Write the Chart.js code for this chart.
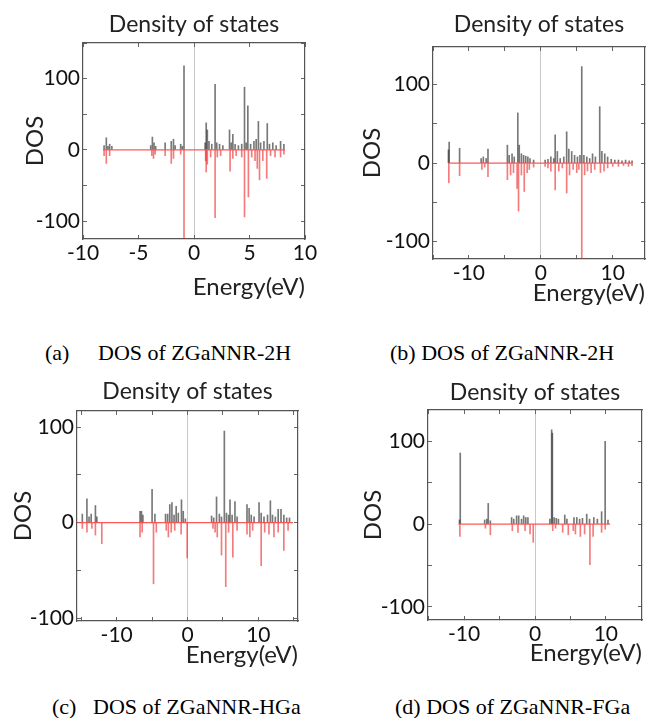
<!DOCTYPE html>
<html>
<head>
<meta charset="utf-8">
<script src="https://cdn.jsdelivr.net/npm/chart.js@4.4.1/dist/chart.umd.min.js"></script>
<style>
  html, body { margin: 0; padding: 0; background: #fff; }
  #page { position: relative; width: 654px; height: 718px; overflow: hidden; background: #fff; }
  .panel { position: absolute; }
  .cap { position: absolute; font-family: 'Liberation Serif', serif; font-size: 22px; line-height: 26px; color: #000; white-space: pre; }
</style>
</head>
<body>
<div id="page">
  <div class="panel"><canvas id="chartA"></canvas></div>
  <div class="panel"><canvas id="chartB"></canvas></div>
  <div class="panel"><canvas id="chartC"></canvas></div>
  <div class="panel"><canvas id="chartD"></canvas></div>

  <div class="cap" style="left:45px; top:340px">(a)</div>
  <div class="cap" style="left:98px; top:340px">DOS of ZGaNNR-2H</div>
  <div class="cap" style="left:390px; top:340px">(b) DOS of ZGaNNR-2H</div>
  <div class="cap" style="left:52px; top:694px">(c)</div>
  <div class="cap" style="left:93px; top:694px">DOS of ZGaNNR-HGa</div>
  <div class="cap" style="left:395px; top:694px">(d) DOS of ZGaNNR-FGa</div>
</div>

<script>
// ---- data: spin-up spikes (E, DOS), spin-down spikes (E, DOS), red baseline extent ----
// (a) ZGaNNR-2H
const aUpE = [-8.1, -7.9, -7.75, -7.6, -7.4, -3.9, -3.75, -3.6, -3.45, -2.6, -2.05, -1.85, -1.7, -1.2, -1.05, -0.9,
  1.0, 1.1, 1.2, 1.35, 1.6, 1.9, 2.05, 2.3, 2.6, 3.2, 3.35, 3.5, 3.7, 4.0, 4.3, 4.55, 4.7, 4.85, 5.1, 5.4, 5.6, 5.8,
  6.0, 6.3, 6.6, 6.8, 7.1, 7.4, 7.8, 8.1];
const aUpV = [6, 17, 5, 8, 5, 6, 18, 10, 5, 10, 12, 15, 6, 8, 5, 118,
  10, 38, 28, 12, 8, 92, 10, 8, 6, 28, 10, 22, 8, 6, 8, 88, 10, 62, 8, 12, 15, 40,
  10, 12, 37, 8, 10, 6, 12, 8];
const aDnE = [-8.1, -7.9, -7.6, -3.8, -3.65, -3.5, -2.6, -2.05, -1.85, -1.2, -0.9, 1.05, 1.1, 1.2, 1.5, 1.9, 2.1, 2.4,
  3.25, 3.5, 3.8, 4.3, 4.55, 4.9, 5.2, 5.5, 5.7, 5.9, 6.2, 6.55, 6.9, 7.3, 7.8, 8.1];
const aDnV = [-8, -19, -8, -8, -12, -6, -8, -19, -12, -6, -135, -15, -31, -20, -10, -95, -10, -8,
  -30, -12, -8, -10, -94, -66, -10, -15, -26, -42, -15, -40, -8, -10, -10, -6];
const aBase = [-8.2, 8.2];

// (b) ZGaNNR-2H
const bUpE = [-12.85, -12.75, -11.3, -8.3, -8.0, -7.6, -7.35, -4.65, -4.4, -4.0, -3.7, -3.2, -3.0, -2.7, -2.4, -2.1,
  -1.8, -1.5, -1.0, 0.6, 1.0, 1.4, 1.8, 2.0, 2.3, 2.7, 3.2, 3.6, 3.9, 4.3, 4.7, 5.1, 5.45, 5.7, 6.0, 6.4, 6.8, 7.2,
  7.6, 8.2, 8.5, 8.9, 9.3, 9.8, 10.3, 10.8, 11.3, 11.8, 12.3, 12.7];
const bUpV = [17, 27, 19, 6, 8, 6, 18, 23, 10, 12, 8, 64, 23, 12, 10, 9,
  8, 6, 4, 4, 5, 8, 6, 36, 15, 6, 8, 40, 18, 15, 10, 8, 10, 123, 10, 8, 6, 12,
  8, 72, 15, 12, 8, 5, 4, 4, 3, 4, 3, 3];
const bDnE = [-12.8, -11.3, -8.2, -7.8, -7.35, -4.65, -4.2, -3.8, -3.3, -3.1, -2.7, -2.3, -1.9, -1.6, -1.0, 0.6,
  1.0, 1.4, 2.0, 2.5, 3.0, 3.6, 4.0, 4.5, 5.0, 5.3, 5.7, 6.1, 6.5, 7.0, 7.5, 8.3, 8.8, 9.3, 10.0, 10.8, 11.5, 12.2, 12.7];
const bDnV = [-25, -16, -8, -5, -17, -21, -15, -12, -32, -61, -15, -36, -12, -8, -5, -4,
  -6, -10, -34, -10, -6, -38, -15, -8, -12, -8, -130, -15, -10, -12, -8, -12, -10, -6, -4, -4, -3, -4, -3];
const bBase = [-12.9, 12.8];

// (c) ZGaNNR-HGa
const cUpE = [-14.85, -14.2, -13.9, -13.6, -13.0, -12.8, -6.7, -6.5, -6.3, -5.0, -4.6, -3.1, -2.8, -2.5, -2.2, -1.9,
  -1.6, -1.3, -0.85, -0.6, -0.3, 3.4, 3.7, 4.1, 4.5, 4.8, 5.2, 5.5, 5.8, 6.0, 6.3, 6.7, 7.0, 8.4, 8.7, 9.0, 9.4,
  10.1, 10.4, 10.8, 11.3, 11.7, 12.0, 12.4, 12.8, 13.2, 13.6, 14.0, 14.4];
const cUpV = [9, 25, 6, 9, 18, 6, 12, 12, 8, 35, 9, 9, 9, 19, 21, 8,
  17, 10, 24, 12, 4, 7, 5, 27, 9, 6, 96, 10, 8, 24, 8, 22, 6, 19, 15, 8, 6,
  21, 10, 6, 8, 23, 8, 6, 14, 14, 8, 5, 5];
const cDnE = [-14.85, -14.2, -13.5, -13.0, -12.1, -6.7, -6.4, -4.8, -4.4, -3.0, -2.7, -2.3, -1.8, -0.9, -0.05,
  3.6, 3.9, 4.2, 4.8, 5.4, 5.8, 6.4, 7.0, 8.4, 8.8, 9.2, 10.4, 10.9, 11.5, 12.2, 12.8, 13.6, 14.2];
const cDnV = [-6, -10, -6, -13, -22, -15, -10, -64, -10, -8, -15, -10, -8, -12, -37,
  -6, -10, -15, -34, -67, -10, -36, -8, -12, -15, -8, -45, -10, -12, -15, -10, -29, -8];
const cBase = [-15.5, 14.9];

// (d) ZGaNNR-FGa
const dUpE = [-10.65, -10.55, -7.1, -6.8, -6.6, -6.3, -3.3, -3.0, -2.6, -2.3, -1.9, -1.6, -1.3, -1.0,
  2.1, 2.35, 2.45, 2.7, 3.0, 3.3, 4.2, 4.5, 5.5, 5.9, 6.3, 6.7, 7.3, 7.7, 8.3, 8.8, 9.4, 9.9, 10.3];
const dUpV = [5, 86, 5, 6, 25, 4, 8, 6, 10, 10, 6, 10, 8, 8,
  6, 114, 110, 8, 7, 6, 11, 6, 8, 8, 6, 7, 12, 6, 8, 6, 15, 100, 5];
const dDnE = [-10.6, -7.0, -6.3, -3.2, -2.4, -1.4, -0.7, -0.25, 2.5, 2.9, 3.9, 4.7, 5.4, 5.7, 6.4, 7.0, 7.75, 8.2, 9.4, 9.9];
const dDnV = [-15, -5, -13, -8, -10, -8, -12, -22, -8, -5, -10, -13, -8, -12, -15, -12, -49, -15, -10, -6];
const dBase = [-10.8, 10.6];

// axis ranges and labelled ticks
const xRangeA = [-10, 10], xRangeB = [-15, 14.5], xRangeC = [-15.6, 15.6], xRangeD = [-15.1, 15.1];
const yRangeA = [-125, 150], yRangeB = [-122, 148], yRangeC = [-103, 117], yRangeD = [-116, 138];
const xLabelsA = [-10, -5, 0, 5, 10];
const xLabelsBCD = [-10, 0, 10];
const yLabels = [-100, 0, 100];

// ---- layout (page pixels): container box, plot area, title/axis title centres ----
const layA = { box: [0, 0, 327, 305], plot: [83, 43, 305, 239], titleY: 25, xTitleY: 287, yTitleX: 35 };
const layB = { box: [327, 0, 327, 310], plot: [433, 47, 645, 259], titleY: 25, xTitleY: 293, yTitleX: 372 };
const layC = { box: [0, 370, 327, 305], plot: [77, 411, 298, 621], titleY: 392, xTitleY: 655, yTitleX: 23 };
const layD = { box: [327, 370, 327, 305], plot: [428, 410, 642, 620], titleY: 393, xTitleY: 653, yTitleX: 373 };

const FONT = "Lato, 'Open Sans', sans-serif";
const FRAME = '#555';
const TITLE_SIZE = 23, AXIS_TITLE_SIZE = 24, TICK_SIZE = 21;

function pts(es, vs) {
  return es.map((e, i) => ({ x: e, y: vs[i] }));
}

function buildPanel(canvasId, lay, upE, upV, dnE, dnV, base, xr, yr, xLabels) {
  const [bl, bt, bw, bh] = lay.box;
  const [pl, pt, pr, pb] = lay.plot;
  const canvas = document.getElementById(canvasId);
  const wrap = canvas.parentNode;
  wrap.style.left = bl + 'px';
  wrap.style.top = bt + 'px';
  wrap.style.width = bw + 'px';
  wrap.style.height = bh + 'px';

  const tlh = TITLE_SIZE * 1.2;
  const alh = AXIS_TITLE_SIZE * 1.2;
  const titleTop = lay.titleY - bt - tlh / 2;
  const titleBottom = pt - bt - titleTop - tlh;

  const innerTicks = { drawOnChartArea: false, offset: false, tickLength: -4, tickColor: '#666' };

  new Chart(canvas, {
    type: 'bar',
    data: {
      datasets: [
        {
          type: 'line',
          data: base.map(e => ({ x: e, y: 0 })),
          borderColor: 'rgba(255,70,70,0.9)',
          borderWidth: 1.2,
          pointRadius: 0,
          clip: 0
        },
        {
          data: pts(upE, upV),
          backgroundColor: 'rgba(30,30,30,0.6)',
          barThickness: 1,
          grouped: false,
          clip: 0
        },
        {
          data: pts(dnE, dnV),
          backgroundColor: 'rgba(235,35,35,0.6)',
          barThickness: 1,
          grouped: false,
          clip: 0
        }
      ]
    },
    options: {
      responsive: true,
      maintainAspectRatio: false,
      animation: false,
      layout: { padding: 0 },
      plugins: {
        legend: { display: false },
        tooltip: { enabled: false },
        title: {
          display: true,
          text: 'Density of states',
          fullSize: false,
          color: '#222',
          font: { family: FONT, size: TITLE_SIZE, weight: 'normal', lineHeight: 1.2 },
          padding: { top: titleTop, bottom: titleBottom }
        }
      },
      scales: {
        x: {
          type: 'linear',
          position: 'bottom',
          min: xr[0],
          max: xr[1],
          offset: false,
          ticks: {
            stepSize: 5,
            includeBounds: false,
            autoSkip: false,
            maxRotation: 0,
            padding: 6,
            color: '#111',
            font: { family: FONT, size: TICK_SIZE },
            callback: v => xLabels.includes(v) ? String(v) : ''
          },
          grid: {
            drawOnChartArea: true,
            offset: false,
            color: c => (c.tick && c.tick.value === 0) ? '#c8c8c8' : 'rgba(0,0,0,0)',
            tickColor: '#666',
            tickLength: -4
          },
          border: { color: FRAME, width: 1.2 },
          title: {
            display: true,
            text: 'Energy(eV)',
            align: 'end',
            color: '#222',
            font: { family: FONT, size: AXIS_TITLE_SIZE, lineHeight: 1.2 },
            padding: { top: 0, bottom: bt + bh - lay.xTitleY - alh / 2 }
          },
          afterFit: s => { s.height = bt + bh - pb; }
        },
        y: {
          type: 'linear',
          position: 'left',
          min: yr[0],
          max: yr[1],
          ticks: {
            stepSize: 50,
            includeBounds: false,
            padding: 7,
            color: '#111',
            font: { family: FONT, size: TICK_SIZE },
            callback: v => yLabels.includes(v) ? String(v) : ''
          },
          grid: innerTicks,
          border: { color: FRAME, width: 1.2 },
          title: {
            display: true,
            text: 'DOS',
            color: '#222',
            font: { family: FONT, size: AXIS_TITLE_SIZE, lineHeight: 1.2 },
            padding: { top: lay.yTitleX - bl - alh / 2, bottom: 0 }
          },
          afterFit: s => { s.width = pl - bl; }
        },
        x2: {
          type: 'linear',
          position: 'top',
          min: xr[0],
          max: xr[1],
          offset: false,
          ticks: { display: false, stepSize: 5, includeBounds: false },
          grid: innerTicks,
          border: { color: FRAME, width: 1.2 },
          afterFit: s => { s.height = 0; }
        },
        y2: {
          type: 'linear',
          position: 'right',
          min: yr[0],
          max: yr[1],
          ticks: { display: false, stepSize: 50, includeBounds: false },
          grid: innerTicks,
          border: { color: FRAME, width: 1.2 },
          afterFit: s => { s.width = bl + bw - pr; }
        }
      }
    }
  });
}

buildPanel('chartA', layA, aUpE, aUpV, aDnE, aDnV, aBase, xRangeA, yRangeA, xLabelsA);
buildPanel('chartB', layB, bUpE, bUpV, bDnE, bDnV, bBase, xRangeB, yRangeB, xLabelsBCD);
buildPanel('chartC', layC, cUpE, cUpV, cDnE, cDnV, cBase, xRangeC, yRangeC, xLabelsBCD);
buildPanel('chartD', layD, dUpE, dUpV, dDnE, dDnV, dBase, xRangeD, yRangeD, xLabelsBCD);
</script>
</body>
</html>
